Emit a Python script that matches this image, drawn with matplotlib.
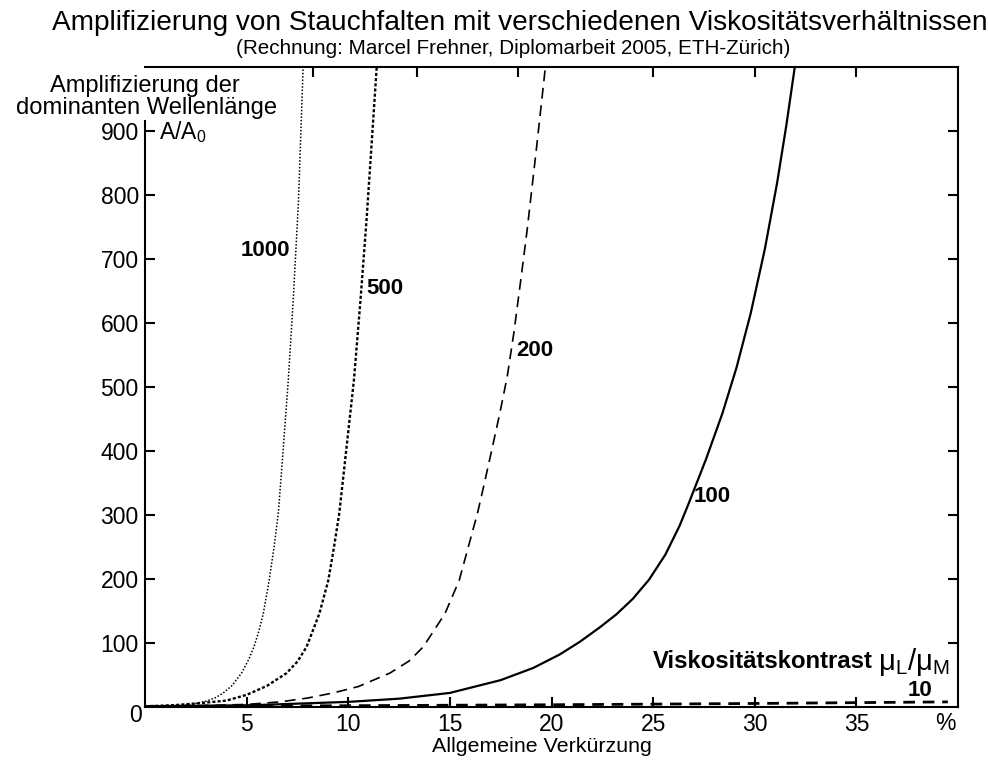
import matplotlib
matplotlib.use("Agg")
import matplotlib.pyplot as plt

# ---------------- data ----------------
x_1000 = [0, 1, 2, 2.5, 3, 3.5, 3.85, 4.3, 4.75, 5.1, 5.36, 5.6, 5.82, 6.11, 6.35, 6.56, 6.77, 7.05, 7.3, 7.55, 7.78]
a_1000 = [1, 1.5, 3, 5.5, 9, 15, 22, 34, 53, 74, 94, 118, 146, 198, 250, 303, 390, 511, 640, 790, 1000]

x_500 = [0, 1.5, 2.7, 4, 5, 6, 6.97, 7.5, 7.95, 8.58, 9.02, 9.3, 9.56, 9.92, 10.28, 10.6, 10.9, 11.15, 11.4]
a_500 = [1, 3, 6, 10, 19, 33, 53, 71, 94, 146, 198, 250, 303, 407, 511, 635, 761, 880, 1000]

x_200 = [0, 3, 5, 6.64, 8, 9.26, 10.5, 12.05, 13, 13.69, 14.76, 15.46, 16.36, 16.7, 17.05, 17.45,
         17.82, 18.15, 18.5, 18.8, 19.25, 19.7]
a_200 = [1, 2.5, 4, 8, 14, 22, 32, 53, 72, 94, 146, 198, 303, 350, 400, 458,
         516, 585, 670, 745, 870, 1000]

x_100 = [0, 5, 10, 12.5, 15, 17.5, 19.1, 20.4, 21.4, 22.4, 23.2, 24.0, 24.8, 25.6, 26.3, 26.75,
         27.6, 28.4, 29.1, 29.8, 30.5, 31.1, 31.55, 31.97]
a_100 = [1, 2.5, 8, 13, 22, 42, 61, 82, 102, 125, 145, 169, 199, 238, 283, 318,
         387, 458, 530, 615, 716, 819, 908, 1000]

x_10 = [0, 10, 20, 30, 39.5]
a_10 = [1, 2, 3.5, 5.5, 8]

y_ticks = [100, 200, 300, 400, 500, 600, 700, 800, 900]
x_ticks = [5, 10, 15, 20, 25, 30, 35]
x_ticks_top = [8.28, 13.36, 18.36, 25, 30, 35]

title = "Amplifizierung von Stauchfalten mit verschiedenen Viskositätsverhältnissen"
subtitle = "(Rechnung: Marcel Frehner, Diplomarbeit 2005, ETH-Zürich)"
xlabel = "Allgemeine Verkürzung"
ylabel1 = "Amplifizierung der"
ylabel2 = "dominanten Wellenlänge"
legend_title = "Viskositätskontrast"

# ---------------- figure ----------------
W, H = 988, 760
base = "Liberation Sans"
plt.rcParams["font.family"] = [base, "DejaVu Sans"]
plt.rcParams["mathtext.fontset"] = "custom"
plt.rcParams["mathtext.rm"] = base

fig = plt.figure(figsize=(W / 100, H / 100), dpi=100)
fig.patch.set_facecolor("white")

L, R, B, T = 145, 958, 707, 67
ax = fig.add_axes([L / W, 1 - B / H, (R - L) / W, (B - T) / H])
ax.set_xlim(0, 40)
ax.set_ylim(0, 1000)

k = "black"
ax.plot(x_1000, a_1000, color=k, lw=1.1, linestyle=(0, (1, 1.2)))
ax.plot(x_500, a_500, color=k, lw=1.7, linestyle=(0, (1.3, 0.9)))
ax.plot(x_200, a_200, color=k, lw=1.2, linestyle=(0, (6.5, 4)))
ax.plot(x_100, a_100, color=k, lw=1.6, linestyle="-")
ax.plot(x_10, a_10, color=k, lw=2.0, linestyle=(0, (4.2, 2.8)))

for s in ax.spines.values():
    s.set_linewidth(1.5)
ax.spines["left"].set_bounds(0, 915)

ax.set_yticks(y_ticks)
ax.set_yticklabels([str(v) for v in y_ticks])
ax.set_xticks(x_ticks)
ax.set_xticklabels([str(v) for v in x_ticks])
ax.tick_params(axis="both", direction="in", length=7.5, width=1.5, labelsize=16.5, colors=k)
ax.tick_params(axis="y", pad=4.5, right=True)
ax.tick_params(axis="x", pad=4)

# top ticks via secondary axis (positions as in reference)
sec = ax.secondary_xaxis("top")
sec.set_xticks(x_ticks_top)
sec.set_xticklabels([])
sec.tick_params(direction="in", length=7.5, width=1.5)
sec.spines["top"].set_visible(False)

renderer = fig.canvas.get_renderer()


def px(x, y):
    return x / W, 1 - y / H


def put(x, y, s, width=None, **kw):
    t = fig.text(*px(x, y), s, **kw)
    if width is not None:
        w = t.get_window_extent(renderer).width
        t.set_fontsize(t.get_fontsize() * width / w)
    return t


put(520, 23, title, width=930, ha="center", va="center", fontsize=22)
put(513, 48, subtitle, width=554, ha="center", va="center", fontsize=12)
put(145, 86, ylabel1, width=190, ha="center", va="center", fontsize=16)
put(146, 108, ylabel2, width=262, ha="center", va="center", fontsize=16)
put(159, 132, r"A/A$_\mathregular{0}$", ha="left", va="center", fontsize=16.5)
put(135, 716, "0", ha="center", va="center", fontsize=16.5)
put(945, 723, "%", ha="center", va="center", fontsize=16.5)
put(542, 747, xlabel, width=220, ha="center", va="center", fontsize=16)

# curve labels
put(265, 250, "1000", ha="center", va="center", fontsize=16, fontweight="bold")
put(385, 289, "500", ha="center", va="center", fontsize=16, fontweight="bold")
put(535, 351, "200", ha="center", va="center", fontsize=16, fontweight="bold")
put(712, 497, "100", ha="center", va="center", fontsize=16, fontweight="bold")
put(920, 690, "10", ha="center", va="center", fontsize=16, fontweight="bold")
put(873, 661, legend_title, width=219, ha="right", va="center", fontsize=16, fontweight="bold")
put(878, 662, r"$\mathregular{μ_L/μ_M}$", width=72, ha="left", va="center", fontsize=20)

fig.savefig("out.png", dpi=100, facecolor="white")
